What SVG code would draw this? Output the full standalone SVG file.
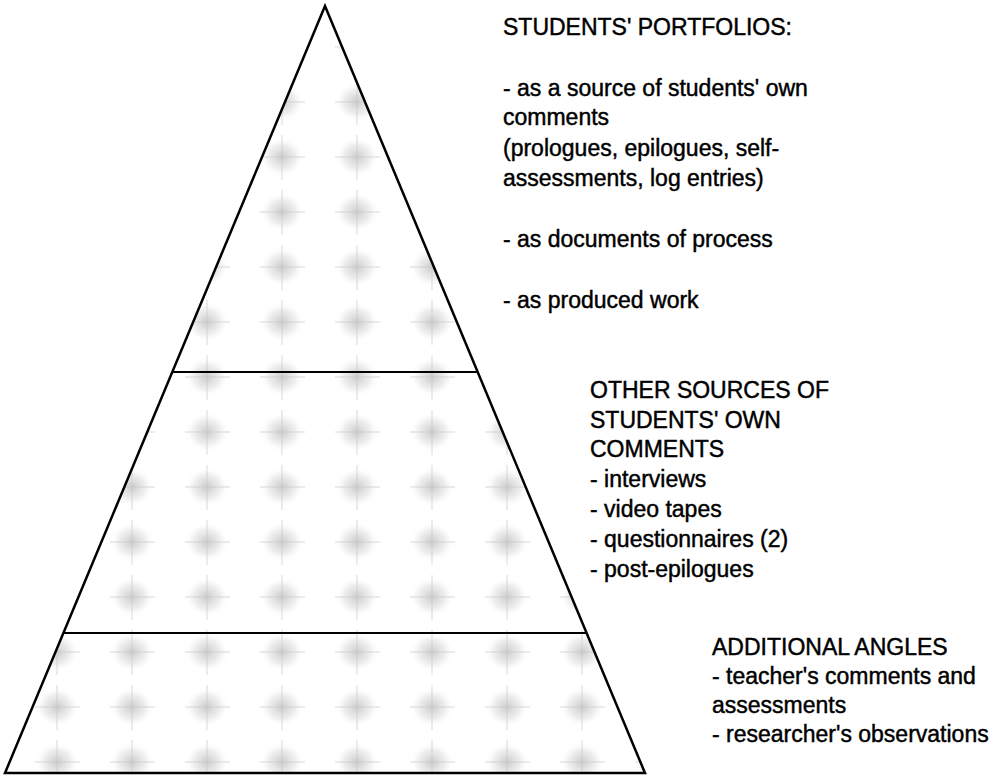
<svg xmlns="http://www.w3.org/2000/svg" width="994" height="775" viewBox="0 0 994 775">
<style>
  .t { font-family: "Liberation Sans", Arial, Helvetica, sans-serif; font-size: 23px; fill: #000; stroke: #000; stroke-width: 0.45; }
  .edge { fill: none; stroke: #000; stroke-width: 2.5; stroke-linejoin: miter; }
  .div { stroke: #000; stroke-width: 2; }
</style>
<defs>
  <radialGradient id="blob">
    <stop offset="0" stop-color="#888" stop-opacity="0.55"/>
    <stop offset="0.6" stop-color="#aaa" stop-opacity="0.25"/>
    <stop offset="1" stop-color="#fff" stop-opacity="0"/>
  </radialGradient>
  <pattern id="stipple" x="20" y="20" width="75" height="55" patternUnits="userSpaceOnUse">
    <ellipse cx="37" cy="27" rx="22" ry="20" fill="url(#blob)"/>
    <rect x="36" y="5" width="2" height="45" fill="#bbb" opacity="0.35"/>
    <rect x="15" y="26" width="45" height="2" fill="#bbb" opacity="0.35"/>
  </pattern>
</defs>
<g id="pyramid">
  <polygon points="325,6 5,773 645,773" fill="url(#stipple)" opacity="0.8"/>
  <polygon class="edge" points="325,6 5,773 645,773"/>
</g>
<g id="connectors">
  <line class="div" x1="172" y1="372" x2="478" y2="372"/>
  <line class="div" x1="63" y1="633" x2="587" y2="633"/>
</g>
<g id="portfolios">
  <text class="t" x="503" y="35">STUDENTS' PORTFOLIOS:</text>
  <text class="t" x="503" y="96">- as a source of students' own</text>
  <text class="t" x="503" y="125">comments</text>
  <text class="t" x="503" y="156">(prologues, epilogues, self-</text>
  <text class="t" x="503" y="186">assessments, log entries)</text>
  <text class="t" x="503" y="247">- as documents of process</text>
  <text class="t" x="503" y="308">- as produced work</text>
</g>
<g id="other-sources">
  <text class="t" x="590" y="398">OTHER SOURCES OF</text>
  <text class="t" x="590" y="428">STUDENTS' OWN</text>
  <text class="t" x="590" y="457">COMMENTS</text>
  <text class="t" x="590" y="487">- interviews</text>
  <text class="t" x="590" y="517">- video tapes</text>
  <text class="t" x="590" y="547">- questionnaires (2)</text>
  <text class="t" x="590" y="577">- post-epilogues</text>
</g>
<g id="additional-angles">
  <text class="t" x="712" y="655">ADDITIONAL ANGLES</text>
  <text class="t" x="712" y="684">- teacher's comments and</text>
  <text class="t" x="712" y="713">assessments</text>
  <text class="t" x="712" y="742">- researcher's observations</text>
</g>
</svg>
